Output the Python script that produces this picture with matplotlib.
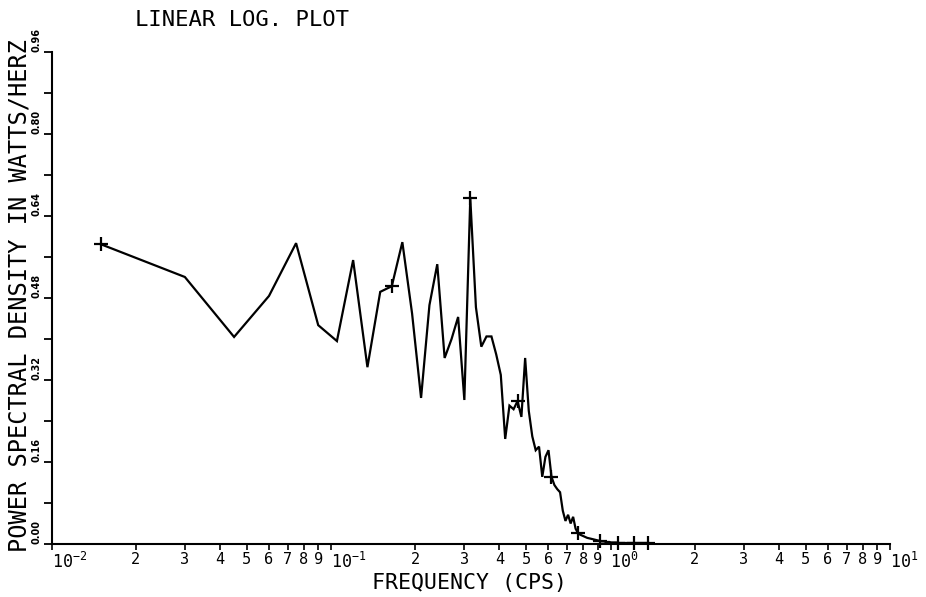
import matplotlib
matplotlib.use("Agg")
import matplotlib.pyplot as plt
from matplotlib.ticker import FixedLocator, FixedFormatter

freq = [0.015, 0.030, 0.045, 0.060, 0.075, 0.090, 0.105, 0.120, 0.135, 0.150,
        0.165, 0.180, 0.195, 0.210, 0.225, 0.240, 0.255, 0.270, 0.285, 0.300,
        0.315, 0.330, 0.345, 0.360, 0.375, 0.390, 0.405, 0.420, 0.435, 0.450,
        0.465, 0.480, 0.495, 0.510, 0.525, 0.540, 0.555, 0.570, 0.585, 0.600,
        0.615, 0.630, 0.645, 0.660, 0.675, 0.690, 0.705, 0.720, 0.735, 0.750,
        0.765, 0.780, 0.795, 0.810, 0.825, 0.840, 0.855, 0.870, 0.885, 0.900,
        0.915, 0.930, 0.945, 0.960, 0.975, 0.990, 1.005, 1.020, 1.035, 1.050,
        1.065, 1.080, 1.095, 1.110, 1.125, 1.140, 1.155, 1.170, 1.185, 1.200,
        1.215, 1.230, 1.245, 1.260, 1.275, 1.290, 1.305, 1.320, 1.335, 1.350,
        1.365]
psd = [0.585, 0.521, 0.404, 0.484, 0.587, 0.427, 0.396, 0.554, 0.345, 0.492,
       0.503, 0.589, 0.450, 0.285, 0.466, 0.546, 0.363, 0.400, 0.443, 0.281,
       0.675, 0.462, 0.385, 0.405, 0.405, 0.370, 0.330, 0.205, 0.270, 0.263,
       0.279, 0.248, 0.363, 0.260, 0.210, 0.183, 0.190, 0.131, 0.170, 0.183,
       0.131, 0.115, 0.107, 0.101, 0.065, 0.045, 0.057, 0.040, 0.053, 0.030,
       0.021, 0.018, 0.016, 0.014, 0.012, 0.011, 0.010, 0.009, 0.008, 0.007,
       0.006, 0.005, 0.005, 0.004, 0.004, 0.004, 0.003, 0.003, 0.003, 0.003,
       0.002, 0.002, 0.002, 0.002, 0.002, 0.002, 0.002, 0.002, 0.002, 0.002,
       0.002, 0.002, 0.002, 0.002, 0.002, 0.002, 0.002, 0.002, 0.002, 0.002,
       0.002]

y_ticks = [0.00, 0.16, 0.32, 0.48, 0.64, 0.80, 0.96]
y_minor = [0.08, 0.24, 0.40, 0.56, 0.72, 0.88]
x_major = [0.01, 0.1, 1.0, 10.0]
x_major_labels = [r'$\mathregular{10^{-2}}$', r'$\mathregular{10^{-1}}$',
                  r'$\mathregular{10^{0}}$', r'$\mathregular{10^{1}}$']
x_minor = [m * d for d in (0.01, 0.1, 1.0) for m in range(2, 10)]
x_minor_labels = [str(m) for d in (0.01, 0.1, 1.0) for m in range(2, 10)]

MONO = 'DejaVu Sans Mono'

fig = plt.figure(figsize=(9.26, 5.97), dpi=100)
W, H = 926, 597
x0, x1, y0, y1 = 51.5, 890, 544, 52
ax = fig.add_axes([x0 / W, 1 - y0 / H, (x1 - x0) / W, (y0 - y1) / H])

ax.plot(freq, psd, color='black', lw=1.6, marker='+', markevery=10,
        markersize=10, mew=1.6, clip_on=False, solid_joinstyle='miter')

ax.set_xscale('log')
ax.set_xlim(0.01, 10)
ax.set_ylim(0, 0.96)

for s in ('top', 'right'):
    ax.spines[s].set_visible(False)
for s in ('left', 'bottom'):
    ax.spines[s].set_linewidth(1.5)

# y axis: rotated labels sitting above each tick
ax.yaxis.set_major_locator(FixedLocator(y_ticks))
ax.yaxis.set_minor_locator(FixedLocator(y_minor))
ax.set_yticklabels(['%.2f' % v for v in y_ticks], rotation=90, va='bottom',
                   fontsize=7, fontweight='bold', family='DejaVu Sans')
ax.tick_params(axis='y', which='both', direction='out', length=6, width=1.3,
               pad=1.5)

# x axis: decades plus 2..9 digits
ax.xaxis.set_major_locator(FixedLocator(x_major))
ax.xaxis.set_major_formatter(FixedFormatter(x_major_labels))
ax.xaxis.set_minor_locator(FixedLocator(x_minor))
ax.xaxis.set_minor_formatter(FixedFormatter(x_minor_labels))
ax.tick_params(axis='x', which='both', direction='out', length=4, width=1.2,
               pad=2, labelsize=11)
for lab in ax.get_xticklabels(which='minor'):
    lab.set_family(MONO)
for lab in ax.get_xticklabels(which='major'):
    lab.set_family(MONO)
    lab.set_horizontalalignment('left')
    lab.set_fontsize(12)

fig.text(135 / W, 1 - 20 / H, 'LINEAR LOG. PLOT', family=MONO, fontsize=16,
         ha='left', va='center')
fig.text(20 / W, 1 - 295 / H, 'POWER SPECTRAL DENSITY IN WATTS/HERZ',
         family=MONO, fontsize=17, rotation=90, ha='center', va='center')
fig.text(372 / W, 1 - 589 / H, 'FREQUENCY (CPS)', family=MONO, fontsize=15.5,
         ha='left', va='baseline')

fig.savefig('out.png', dpi=100, facecolor='white')
